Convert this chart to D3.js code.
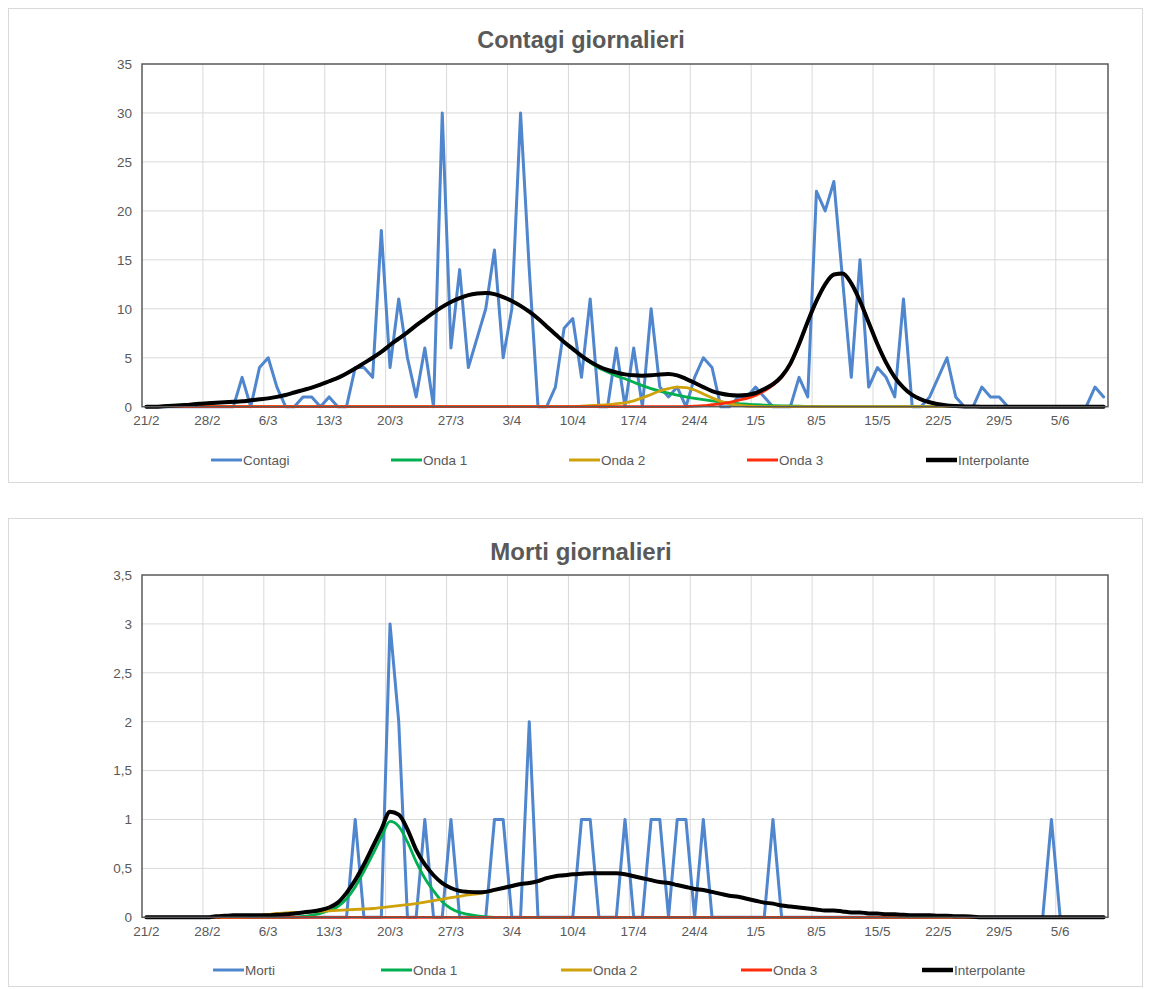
<!DOCTYPE html>
<html>
<head>
<meta charset="utf-8">
<script src="https://cdn.jsdelivr.net/npm/d3@7"></script>
<style>
  body { margin: 0; background: #fff; }
  text { font-family: "Liberation Sans", Arial, sans-serif; }
</style>
</head>
<body>
<svg id="chart" width="1151" height="989"></svg>
<script>
// Daily categories: 21/2/2020 .. 10/6/2020
const dayLabels = d3.timeDay.range(new Date(2020, 1, 21), new Date(2020, 5, 11)).map(d3.timeFormat("%-d/%-m"));
const tickLabels = ["21/2","28/2","6/3","13/3","20/3","27/3","3/4","10/4","17/4","24/4","1/5","8/5","15/5","22/5","29/5","5/6"];

const seriesNames = ["Onda 1", "Onda 2", "Onda 3", "Interpolante"];

// ---- Contagi giornalieri ----
const contagiTicks = [0, 5, 10, 15, 20, 25, 30, 35];
const contagi = [
  0,0,0,0,0,0,0,0,0,0,
  0,3,0,4,5,2,0,0,1,1,
  0,1,0,0,4,4,3,18,4,11,
  5,1,6,0,30,6,14,4,7,10,
  16,5,10,30,14,0,0,2,8,9,
  3,11,0,0,6,0,6,0,10,2,
  1,2,0,3,5,4,0,0,1,1,
  2,1,0,0,0,3,1,22,20,23,
  13,3,15,2,4,3,1,11,0,0,
  1,3,5,1,0,0,2,1,1,0,
  0,0,0,0,0,0,0,0,0,2,
  1];
const contagiOnda1 = [
  0,0,0.05,0.1,0.15,0.2,0.3,0.35,0.4,0.45,
  0.5,0.55,0.65,0.75,0.85,1.0,1.2,1.45,1.7,1.95,
  2.25,2.6,2.95,3.4,3.9,4.45,5.0,5.6,6.3,6.95,
  7.6,8.3,8.95,9.6,10.2,10.7,11.1,11.4,11.55,11.6,
  11.5,11.2,10.8,10.3,9.7,9.0,8.2,7.4,6.6,5.9,
  5.15,4.5,3.95,3.55,3.15,2.85,2.5,2.15,1.85,1.6,
  1.38,1.18,1.0,0.85,0.72,0.6,0.49,0.4,0.32,0.26,
  0.2,0.16,0.12,0.09,0.07,0.05,0.04,0.03,0,0,
  0,0,0,0,0,0,0,0,0,0,
  0,0,0,0,0,0,0,0,0,0,
  0,0,0,0,0,0,0,0,0,0,
  0];
const contagiOnda2 = [
  0,0,0,0,0,0,0,0,0,0,
  0,0,0,0,0,0,0,0,0,0,
  0,0,0,0,0,0,0,0,0,0,
  0,0,0,0,0,0,0,0,0,0,
  0,0,0,0,0,0,0,0,0,0,
  0.05,0.1,0.15,0.2,0.3,0.4,0.6,0.9,1.25,1.6,
  1.85,2.0,1.95,1.7,1.3,0.9,0.55,0.3,0.15,0.07,
  0.03,0.01,0,0,0,0,0,0,0,0,
  0,0,0,0,0,0,0,0,0,0,
  0,0,0,0,0,0,0,0,0,0,
  0,0,0,0,0,0,0,0,0,0,
  0];
const contagiOnda3 = [
  0,0,0,0,0,0,0,0,0,0,
  0,0,0,0,0,0,0,0,0,0,
  0,0,0,0,0,0,0,0,0,0,
  0,0,0,0,0,0,0,0,0,0,
  0,0,0,0,0,0,0,0,0,0,
  0,0,0,0,0,0,0,0,0,0,
  0,0,0.02,0.05,0.1,0.2,0.3,0.45,0.65,0.85,
  1.15,1.6,2.2,3.0,4.3,6.3,8.6,10.75,12.45,13.45,
  13.55,12.6,10.8,8.6,6.4,4.5,3.0,1.95,1.2,0.75,
  0.45,0.25,0.13,0.07,0.03,0.01,0,0,0,0,
  0,0,0,0,0,0,0,0,0,0,
  0];
const contagiInterp = [
  0,0,0.05,0.1,0.15,0.2,0.3,0.35,0.4,0.45,
  0.5,0.55,0.65,0.75,0.85,1.0,1.2,1.45,1.7,1.95,
  2.25,2.6,2.95,3.4,3.9,4.45,5.0,5.6,6.3,6.95,
  7.6,8.3,8.95,9.6,10.2,10.7,11.1,11.4,11.55,11.6,
  11.5,11.2,10.8,10.3,9.7,9.0,8.2,7.4,6.6,5.9,
  5.2,4.6,4.1,3.75,3.5,3.3,3.2,3.15,3.2,3.3,
  3.35,3.2,2.85,2.45,2.0,1.6,1.35,1.2,1.15,1.2,
  1.4,1.8,2.3,3.1,4.4,6.4,8.7,10.8,12.5,13.5,
  13.6,12.6,10.8,8.6,6.4,4.5,3.0,1.95,1.2,0.75,
  0.45,0.25,0.13,0.07,0.03,0.01,0,0,0,0,
  0,0,0,0,0,0,0,0,0,0,
  0];

// ---- Morti giornalieri ----
const mortiTicks = [0, 0.5, 1, 1.5, 2, 2.5, 3, 3.5];
const morti = [
  0,0,0,0,0,0,0,0,0,0,
  0,0,0,0,0,0,0,0,0,0,
  0,0,0,0,1,0,0,0,3,2,
  0,0,1,0,0,1,0,0,0,0,
  1,1,0,0,2,0,0,0,0,0,
  1,1,0,0,0,1,0,0,1,1,
  0,1,1,0,1,0,0,0,0,0,
  0,0,1,0,0,0,0,0,0,0,
  0,0,0,0,0,0,0,0,0,0,
  0,0,0,0,0,0,0,0,0,0,
  0,0,0,0,1,0,0,0,0,0,
  0];
const mortiOnda1 = [
  0,0,0,0,0,0,0,0,0,0,
  0,0,0,0,0,0,0,0,0.01,0.02,
  0.04,0.07,0.11,0.19,0.31,0.47,0.64,0.82,0.98,0.93,
  0.77,0.57,0.4,0.27,0.16,0.09,0.05,0.03,0.015,0.005,
  0,0,0,0,0,0,0,0,0,0,
  0,0,0,0,0,0,0,0,0,0,
  0,0,0,0,0,0,0,0,0,0,
  0,0,0,0,0,0,0,0,0,0,
  0,0,0,0,0,0,0,0,0,0,
  0,0,0,0,0,0,0,0,0,0,
  0,0,0,0,0,0,0,0,0,0,
  0];
const mortiOnda2 = [
  0,0,0,0,0,0,0,0,0,0,
  0,0,0.01,0.02,0.03,0.04,0.045,0.05,0.05,0.055,
  0.06,0.065,0.07,0.075,0.08,0.085,0.09,0.1,0.11,0.12,
  0.13,0.14,0.155,0.17,0.185,0.2,0.215,0.23,0.24,0.255,
  0.28,0.3,0.32,0.34,0.35,0.37,0.4,0.42,0.43,0.44,
  0.445,0.45,0.45,0.45,0.45,0.44,0.42,0.4,0.38,0.36,
  0.35,0.33,0.31,0.29,0.28,0.26,0.24,0.22,0.21,0.19,
  0.17,0.15,0.14,0.12,0.11,0.1,0.09,0.08,0.07,0.07,
  0.06,0.05,0.05,0.04,0.04,0.03,0.03,0.025,0.02,0.02,
  0.02,0.015,0.015,0.01,0.01,0.005,0,0,0,0,
  0,0,0,0,0,0,0,0,0,0,
  0];
const mortiOnda3 = [
  0,0,0,0,0,0,0,0,0,0,
  0,0,0,0,0,0,0,0,0,0,
  0,0,0,0,0,0,0,0,0,0,
  0,0,0,0,0,0,0,0,0,0,
  0,0,0,0,0,0,0,0,0,0,
  0,0,0,0,0,0,0,0,0,0,
  0,0,0,0,0,0,0,0,0,0,
  0,0,0,0,0,0,0,0,0,0,
  0,0,0,0,0,0,0,0,0,0,
  0,0,0,0,0,0,0,0,0,0,
  0,0,0,0,0,0,0,0,0,0,
  0];
const mortiInterp = [
  0,0,0,0,0,0,0,0,0.01,0.015,
  0.02,0.02,0.02,0.02,0.02,0.025,0.03,0.04,0.05,0.06,
  0.075,0.1,0.15,0.25,0.38,0.54,0.72,0.9,1.08,1.05,
  0.9,0.69,0.54,0.43,0.35,0.3,0.27,0.26,0.255,0.26,
  0.28,0.3,0.32,0.34,0.35,0.37,0.4,0.42,0.43,0.44,
  0.445,0.45,0.45,0.45,0.45,0.44,0.42,0.4,0.38,0.36,
  0.35,0.33,0.31,0.29,0.28,0.26,0.24,0.22,0.21,0.19,
  0.17,0.15,0.14,0.12,0.11,0.1,0.09,0.08,0.07,0.07,
  0.06,0.05,0.05,0.04,0.04,0.03,0.03,0.025,0.02,0.02,
  0.02,0.015,0.015,0.01,0.01,0.005,0,0,0,0,
  0,0,0,0,0,0,0,0,0,0,
  0];

// ---- drawing ----
const svg = d3.select("#chart");
const colors = { data: "#4F86CD", o1: "#00B050", o2: "#CFA10A", o3: "#FF2D0A", interp: "#000000" };
const fmtIt = d => String(d).replace(".", ",");
const FONT = '"Liberation Sans", Arial, sans-serif';

function drawPanel(cfg) {
  const g = svg.append("g");

  // panel frame
  g.append("rect")
    .attr("x", 8.5).attr("y", cfg.panelTop + 0.5)
    .attr("width", 1134).attr("height", cfg.panelHeight)
    .attr("fill", "#fff").attr("stroke", "#D9D9D9").attr("stroke-width", 1);

  g.append("text")
    .attr("x", 581).attr("y", cfg.titleY)
    .attr("text-anchor", "middle")
    .attr("font-size", cfg.titleSize).attr("font-weight", "bold")
    .attr("fill", "#595959")
    .text(cfg.title);

  const x = d3.scaleBand().domain(dayLabels).range([142, 1108]).paddingInner(0).paddingOuter(0);
  const y = d3.scaleLinear().domain(cfg.yDomain).range([cfg.plotBottom, cfg.plotTop]);
  const cx = i => x(dayLabels[i]) + x.bandwidth() / 2;

  // horizontal gridlines
  g.append("g").selectAll("line").data(cfg.ticks.slice(1, -1)).join("line")
    .attr("x1", 142).attr("x2", 1108)
    .attr("y1", d => y(d)).attr("y2", d => y(d))
    .attr("stroke", "#D9D9D9").attr("stroke-width", 1);

  // vertical gridlines every 7 days (category boundaries)
  const vIdx = d3.range(7, dayLabels.length, 7);
  g.append("g").selectAll("line").data(vIdx).join("line")
    .attr("x1", i => x(dayLabels[i])).attr("x2", i => x(dayLabels[i]))
    .attr("y1", cfg.plotTop).attr("y2", cfg.plotBottom)
    .attr("stroke", "#D9D9D9").attr("stroke-width", 1);

  // y axis labels
  const yAxis = d3.axisLeft(y).tickValues(cfg.ticks).tickSize(0).tickPadding(10).tickFormat(fmtIt);
  const ya = g.append("g").attr("transform", "translate(142,0)").call(yAxis);
  ya.select(".domain").remove();
  ya.selectAll("text").attr("font-size", 13.5).attr("fill", "#595959").style("font-family", FONT);

  // x axis labels
  const xAxis = d3.axisBottom(x).tickValues(tickLabels).tickSize(0).tickPadding(9);
  const xa = g.append("g").attr("transform", `translate(0,${cfg.plotBottom})`).call(xAxis);
  xa.select(".domain").remove();
  xa.selectAll("text").attr("font-size", 13.5).attr("fill", "#595959").style("font-family", FONT);

  // series
  const series = [
    { name: cfg.dataName, values: cfg.data, color: colors.data, w: 3, curve: d3.curveLinear },
    { name: seriesNames[0], values: cfg.o1, color: colors.o1, w: 2.8, curve: d3.curveMonotoneX },
    { name: seriesNames[1], values: cfg.o2, color: colors.o2, w: 2.8, curve: d3.curveMonotoneX },
    { name: seriesNames[2], values: cfg.o3, color: colors.o3, w: 2.8, curve: d3.curveMonotoneX },
    { name: seriesNames[3], values: cfg.interp, color: colors.interp, w: 4, curve: d3.curveMonotoneX }
  ];

  const plot = g.append("g");
  series.forEach(s => {
    const line = d3.line().x((d, i) => cx(i)).y(d => y(d)).curve(s.curve);
    plot.append("path")
      .datum(s.values)
      .attr("d", line)
      .attr("fill", "none")
      .attr("stroke", s.color)
      .attr("stroke-width", s.w)
      .attr("stroke-linejoin", "round")
      .attr("stroke-linecap", "round");
  });

  // plot area border
  g.append("rect")
    .attr("x", 142).attr("y", cfg.plotTop)
    .attr("width", 966).attr("height", cfg.plotBottom - cfg.plotTop)
    .attr("fill", "none").attr("stroke", "#595959").attr("stroke-width", 1.5);

  // legend
  const leg = g.append("g");
  series.forEach((s, k) => {
    const lx = cfg.legendX[k];
    leg.append("line")
      .attr("x1", lx).attr("x2", lx + 31)
      .attr("y1", cfg.legendY).attr("y2", cfg.legendY)
      .attr("stroke", s.color).attr("stroke-width", k === 4 ? 4.5 : 3);
    leg.append("text")
      .attr("x", lx + 32).attr("y", cfg.legendY)
      .attr("dy", "0.35em")
      .attr("font-size", 13.5).attr("fill", "#595959")
      .text(s.name);
  });
}

drawPanel({
  title: "Contagi giornalieri", dataName: "Contagi",
  panelTop: 8, panelHeight: 474, titleY: 48, titleSize: 23.5,
  plotTop: 64, plotBottom: 406.7, yDomain: [0, 35], ticks: contagiTicks,
  data: contagi, o1: contagiOnda1, o2: contagiOnda2, o3: contagiOnda3, interp: contagiInterp,
  legendX: [211, 391, 569, 747, 926], legendY: 460
});

drawPanel({
  title: "Morti giornalieri", dataName: "Morti",
  panelTop: 518, panelHeight: 468, titleY: 560, titleSize: 24,
  plotTop: 575, plotBottom: 917.3, yDomain: [0, 3.5], ticks: mortiTicks,
  data: morti, o1: mortiOnda1, o2: mortiOnda2, o3: mortiOnda3, interp: mortiInterp,
  legendX: [213, 381, 561, 741, 922], legendY: 970
});
</script>
</body>
</html>
